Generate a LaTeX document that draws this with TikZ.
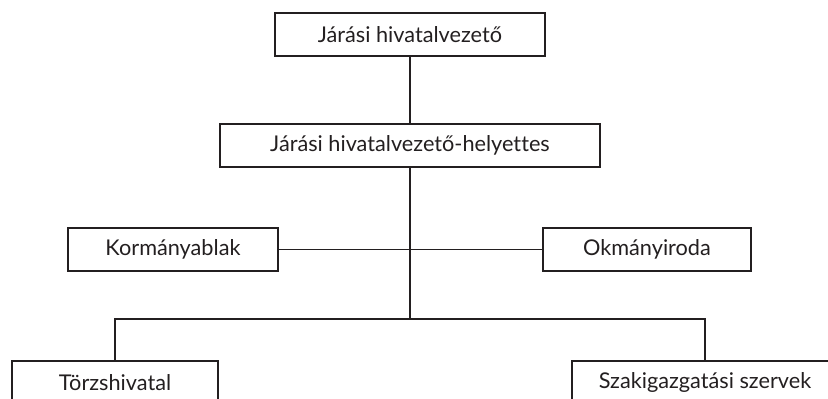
\documentclass[tikz,border=0pt]{standalone}
\usepackage{fontspec}
\setmainfont[Ligatures=NoCommon]{Lato}
\definecolor{ink}{HTML}{231F20}
\begin{document}
\begin{tikzpicture}[x=1pt,y=-1pt,
  box/.style={draw=ink, line width=1.6pt, minimum height=43pt, inner sep=0pt,
    font=\fontsize{21.7}{26}\selectfont, text=ink},
  conn/.style={draw=ink, line width=1.6pt}]
\useasboundingbox (0,0) rectangle (828,399);
\clip (0,0) rectangle (828,399);
\node[box, minimum width=270pt] (b1) at (410,34.5) {Járási hivatalvezető};
\node[box, minimum width=380pt] (b2) at (410,145.5) {Járási hivatalvezető-helyettes};
\node[box, minimum width=210pt] (k) at (173,249.5) {Kormányablak};
\node[box, minimum width=208pt] (o) at (647,249.5) {Okmányiroda};
\node[box, minimum width=206pt] (t) at (115,382.5) {Törzshivatal};
\node[box, minimum width=266pt] (s) at (705,382.5) {Szakigazgatási szervek};
\coordinate (j) at (410,319);
\draw[conn] (b1.south) -- (b2.north);
\draw[conn] (b2.south) -- (j);
\draw[conn] (k.east) -- (o.west);
\draw[conn] (t.north) |- (j) -| (s.north);
\end{tikzpicture}
\end{document}
